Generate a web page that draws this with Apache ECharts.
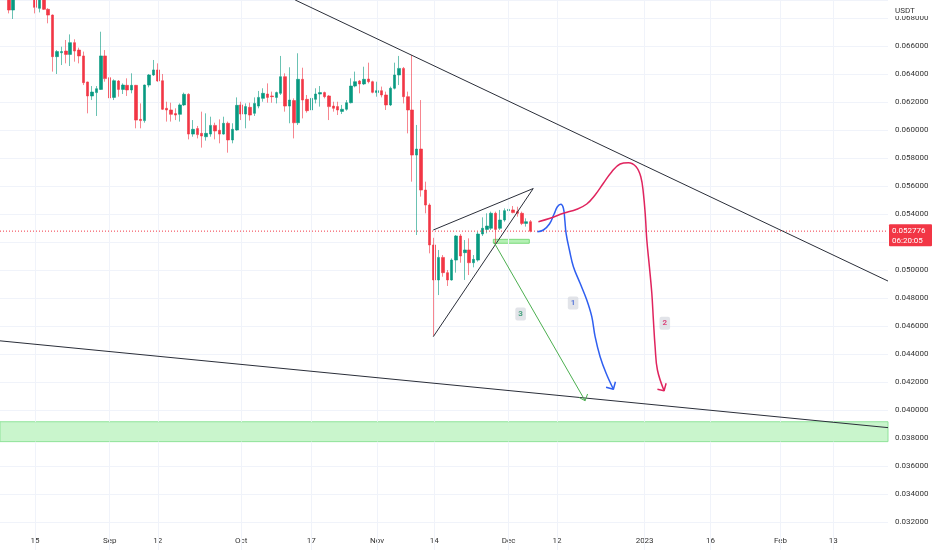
<!DOCTYPE html>
<html>
<head>
<meta charset="utf-8">
<title>USDT daily</title>
<script src="https://cdn.jsdelivr.net/npm/echarts@6/dist/echarts.min.js"></script>
<style>
  html, body { margin: 0; padding: 0; background: #ffffff; }
  #chart { width: 932px; height: 550px; }
</style>
</head>
<body>
<div id="chart"></div>
<script>
// ==========================================
// Data
// ==========================================
const candleStart = '2022-08-09';   // first daily candle, one per day after it

// [open, close, low, high]
const ohlc = [
  [0.06976, 0.06857, 0.06833, 0.07000],
  [0.06857, 0.06964, 0.06793, 0.07000],
  [0.06964, 0.07040, 0.06940, 0.07090],
  [0.07040, 0.07080, 0.06990, 0.07150],
  [0.07080, 0.07010, 0.06960, 0.07120],
  [0.07010, 0.06990, 0.06945, 0.07060],
  [0.06990, 0.06876, 0.06833, 0.07010],
  [0.06869, 0.06945, 0.06840, 0.06970],
  [0.06945, 0.06862, 0.06857, 0.06960],
  [0.06862, 0.06821, 0.06762, 0.06870],
  [0.06821, 0.06524, 0.06417, 0.06825],
  [0.06524, 0.06560, 0.06400, 0.06571],
  [0.06552, 0.06560, 0.06464, 0.06595],
  [0.06564, 0.06540, 0.06476, 0.06643],
  [0.06540, 0.06624, 0.06457, 0.06683],
  [0.06624, 0.06564, 0.06488, 0.06648],
  [0.06571, 0.06529, 0.06476, 0.06588],
  [0.06529, 0.06338, 0.06321, 0.06560],
  [0.06343, 0.06243, 0.06119, 0.06345],
  [0.06243, 0.06271, 0.06214, 0.06314],
  [0.06267, 0.06295, 0.06100, 0.06314],
  [0.06290, 0.06529, 0.06286, 0.06702],
  [0.06529, 0.06367, 0.06345, 0.06571],
  [0.06374, 0.06229, 0.06219, 0.06386],
  [0.06233, 0.06352, 0.06214, 0.06362],
  [0.06350, 0.06290, 0.06238, 0.06357],
  [0.06290, 0.06321, 0.06257, 0.06333],
  [0.06319, 0.06286, 0.06243, 0.06369],
  [0.06286, 0.06319, 0.06262, 0.06405],
  [0.06319, 0.06071, 0.06012, 0.06322],
  [0.06076, 0.06067, 0.06012, 0.06190],
  [0.06067, 0.06321, 0.06052, 0.06324],
  [0.06321, 0.06393, 0.06305, 0.06400],
  [0.06393, 0.06429, 0.06386, 0.06500],
  [0.06429, 0.06350, 0.06345, 0.06476],
  [0.06352, 0.06148, 0.06143, 0.06400],
  [0.06155, 0.06143, 0.06060, 0.06202],
  [0.06143, 0.06112, 0.06060, 0.06195],
  [0.06117, 0.06107, 0.06071, 0.06155],
  [0.06112, 0.06179, 0.06060, 0.06190],
  [0.06179, 0.06255, 0.06171, 0.06267],
  [0.06255, 0.05971, 0.05933, 0.06262],
  [0.05971, 0.06005, 0.05952, 0.06071],
  [0.06010, 0.05967, 0.05940, 0.06029],
  [0.05976, 0.05957, 0.05874, 0.06131],
  [0.05952, 0.05976, 0.05924, 0.06119],
  [0.05971, 0.06033, 0.05952, 0.06095],
  [0.06033, 0.05993, 0.05933, 0.06052],
  [0.05998, 0.05971, 0.05905, 0.06076],
  [0.05971, 0.06048, 0.05967, 0.06095],
  [0.06048, 0.05929, 0.05838, 0.06060],
  [0.05929, 0.06005, 0.05905, 0.06048],
  [0.06000, 0.06176, 0.05995, 0.06233],
  [0.06179, 0.06114, 0.06071, 0.06202],
  [0.06114, 0.06167, 0.06012, 0.06190],
  [0.06162, 0.06107, 0.06067, 0.06195],
  [0.06119, 0.06190, 0.06100, 0.06233],
  [0.06171, 0.06233, 0.06155, 0.06279],
  [0.06226, 0.06262, 0.06202, 0.06298],
  [0.06257, 0.06233, 0.06195, 0.06333],
  [0.06243, 0.06238, 0.06195, 0.06274],
  [0.06233, 0.06267, 0.06190, 0.06274],
  [0.06262, 0.06381, 0.06250, 0.06529],
  [0.06381, 0.06171, 0.06131, 0.06405],
  [0.06171, 0.06214, 0.06048, 0.06448],
  [0.06210, 0.06052, 0.05940, 0.06226],
  [0.06052, 0.06362, 0.06036, 0.06548],
  [0.06362, 0.06214, 0.06083, 0.06445],
  [0.06219, 0.06138, 0.06124, 0.06250],
  [0.06143, 0.06226, 0.06119, 0.06310],
  [0.06219, 0.06257, 0.06190, 0.06298],
  [0.06257, 0.06267, 0.06167, 0.06314],
  [0.06267, 0.06238, 0.06226, 0.06274],
  [0.06243, 0.06167, 0.06071, 0.06250],
  [0.06171, 0.06155, 0.06131, 0.06202],
  [0.06167, 0.06143, 0.06107, 0.06202],
  [0.06133, 0.06148, 0.06114, 0.06179],
  [0.06148, 0.06195, 0.06138, 0.06214],
  [0.06195, 0.06314, 0.06190, 0.06369],
  [0.06314, 0.06345, 0.06305, 0.06417],
  [0.06350, 0.06329, 0.06262, 0.06357],
  [0.06329, 0.06362, 0.06321, 0.06452],
  [0.06364, 0.06345, 0.06333, 0.06481],
  [0.06345, 0.06269, 0.06262, 0.06352],
  [0.06267, 0.06281, 0.06238, 0.06345],
  [0.06281, 0.06250, 0.06233, 0.06310],
  [0.06250, 0.06179, 0.06143, 0.06274],
  [0.06179, 0.06298, 0.06171, 0.06310],
  [0.06298, 0.06393, 0.06290, 0.06481],
  [0.06393, 0.06440, 0.06321, 0.06529],
  [0.06440, 0.06238, 0.06190, 0.06450],
  [0.06238, 0.06143, 0.05976, 0.06274],
  [0.06143, 0.05821, 0.05631, 0.06536],
  [0.05821, 0.05864, 0.05250, 0.06036],
  [0.05864, 0.05571, 0.05524, 0.06214],
  [0.05571, 0.05464, 0.05405, 0.05631],
  [0.05464, 0.05179, 0.05119, 0.05476],
  [0.05179, 0.04929, 0.04530, 0.05230],
  [0.04929, 0.05090, 0.04821, 0.05143],
  [0.05090, 0.04981, 0.04952, 0.05107],
  [0.04981, 0.04929, 0.04886, 0.05000],
  [0.04929, 0.05071, 0.04924, 0.05083],
  [0.05071, 0.05243, 0.04981, 0.05250],
  [0.05243, 0.05100, 0.05052, 0.05257],
  [0.05124, 0.05143, 0.04929, 0.05214],
  [0.05143, 0.05052, 0.04964, 0.05226],
  [0.05052, 0.05076, 0.05019, 0.05107],
  [0.05071, 0.05257, 0.05060, 0.05274],
  [0.05257, 0.05298, 0.05243, 0.05376],
  [0.05290, 0.05314, 0.05262, 0.05405],
  [0.05298, 0.05405, 0.05286, 0.05417],
  [0.05405, 0.05290, 0.05190, 0.05417],
  [0.05298, 0.05357, 0.05286, 0.05429],
  [0.05357, 0.05424, 0.05345, 0.05440],
  [0.05424, 0.05433, 0.05417, 0.05505],
  [0.05429, 0.05410, 0.05405, 0.05457],
  [0.05417, 0.05405, 0.05381, 0.05452],
  [0.05405, 0.05333, 0.05321, 0.05417],
  [0.05333, 0.05345, 0.05310, 0.05369],
  [0.05345, 0.052776, 0.05269, 0.05357]
];

const lastPrice = 0.052776;
const barCountdown = '06:20:05';
const currency = 'USDT';

const tickDates = ['2022-08-15', '2022-09-01', '2022-09-12', '2022-10-01', '2022-10-17', '2022-11-01',
  '2022-11-14', '2022-12-01', '2022-12-12', '2023-01-01', '2023-01-16', '2023-02-01', '2023-02-13'];
const tickLabels = ['15', 'Sep', '12', 'Oct', '17', 'Nov', '14', 'Dec', '12', '2023', '16', 'Feb', '13'];

// the x axis counts days after 15 Aug 2022
const dayZero = '2022-08-15';
const viewDays = [-8, 194.5];
const viewPrices = [0.030, 0.0692857];

// drawings: [days after 15 Aug 2022, price]
const upperTrend = [[59.3, 0.06929], [194.5, 0.04921]];
const lowerTrend = [[-8, 0.04494], [194.5, 0.03874]];
const wedgeTop = [[90.8, 0.052857], [113.6, 0.055821]];
const wedgeBottom = [[90.8, 0.045236], [113.6, 0.055821]];
const supportZone = [0.03774, 0.03916];
const retestBox = [[104.5, 0.05191], [112.7, 0.05219]];

const path1 = [[114.55, 0.052736], [115.92, 0.052857], [117.29, 0.053286], [118.36, 0.054000],
  [119.11, 0.054521], [119.89, 0.054693], [120.48, 0.054407], [120.80, 0.053571], [121.09, 0.052621],
  [121.85, 0.051429], [122.76, 0.050236], [124.29, 0.049050], [125.81, 0.047857], [126.95, 0.046664],
  [127.71, 0.045236], [128.85, 0.043807], [130.22, 0.042621], [131.88, 0.041479]];
const head1 = [[130.21, 0.041621], [131.88, 0.041479], [132.34, 0.042021]];

const path2 = [[114.78, 0.053450], [117.45, 0.053693], [120.48, 0.054050], [123.53, 0.054336],
  [125.81, 0.054714], [127.71, 0.055357], [129.60, 0.056193], [131.52, 0.057021], [133.41, 0.057571],
  [135.30, 0.057664], [137.06, 0.057379], [138.13, 0.056664], [138.72, 0.055479], [139.18, 0.053807],
  [139.50, 0.052143], [140.09, 0.050236], [140.64, 0.048336], [141.00, 0.046429], [141.39, 0.044521],
  [141.92, 0.042857], [143.44, 0.041379]];
const head2 = [[141.92, 0.041479], [143.44, 0.041379], [143.90, 0.041907]];

const path3 = [[104.67, 0.051964], [125.43, 0.040664]];
const head3 = [[124.06, 0.040893], [125.43, 0.040664], [125.99, 0.041143]];

const tagNames = ['1', '2', '3'];
const tagPoints = [[122.69, 0.047643], [143.6, 0.046193], [110.72, 0.046857]];

// ==========================================
// Helpers
// ==========================================
const DAY = 86400000;

function parseDate(s) {
  const p = s.split('-').map(Number);
  return Date.UTC(p[0], p[1] - 1, p[2]);
}

// whole days between dayZero and a date string
function dayOf(s) {
  return Math.round((parseDate(s) - parseDate(dayZero)) / DAY);
}

function drawing(pts, color, width, smooth, type) {
  return {
    type: 'line',
    data: pts,
    symbol: 'none',
    smooth: smooth || false,
    silent: true,
    animation: false,
    z: 5,
    lineStyle: { color: color, width: width, type: type || 'solid' }
  };
}

const UP = '#089981';
const DOWN = '#f23645';
const FONT = 'Roboto, "Liberation Sans", sans-serif';

const firstDay = dayOf(candleStart);
const candleData = ohlc.map((row, i) => [firstDay + i].concat(row));

const tickDays = tickDates.map(dayOf);
const labelByDay = {};
tickDays.forEach((d, i) => { labelByDay[d] = tickLabels[i]; });

// vertical grid lines stop at the support zone so it stays solid
const gridSegments = [];
tickDays.forEach(d => {
  gridSegments.push([{ coord: [d, viewPrices[1]] }, { coord: [d, supportZone[1]] }]);
  gridSegments.push([{ coord: [d, supportZone[0]] }, { coord: [d, viewPrices[0]] }]);
});

const tagColors = ['#3d63d8', '#d81b60', '#1f9163'];

// ==========================================
// Chart
// ==========================================
const chart = echarts.init(document.getElementById('chart'));

chart.setOption({
  animation: false,
  backgroundColor: '#ffffff',
  grid: { left: 0, right: 44, top: 0, bottom: 0 },
  xAxis: {
    type: 'value',
    min: viewDays[0],
    max: viewDays[1],
    offset: -20,
    axisLine: { show: false },
    axisTick: { show: false },
    splitLine: { show: false },
    axisLabel: {
      customValues: tickDays,
      margin: 7,
      fontSize: 8,
      fontFamily: FONT,
      color: '#333',
      formatter: v => labelByDay[Math.round(v)] || ''
    }
  },
  yAxis: {
    type: 'value',
    position: 'right',
    min: viewPrices[0],
    max: viewPrices[1],
    interval: 0.002,
    axisLine: { show: false },
    axisTick: { show: false },
    splitLine: { lineStyle: { color: '#f0f3fa', width: 1 } },
    axisLabel: {
      margin: 7,
      fontSize: 8,
      fontFamily: FONT,
      color: '#333',
      formatter: v => (v < 0.0315 || v > 0.0685) ? '' : v.toFixed(6)
    }
  },
  series: [
    {
      // vertical grid lines at the date ticks
      type: 'line',
      data: [],
      silent: true,
      z: 0,
      markLine: {
        silent: true,
        symbol: 'none',
        label: { show: false },
        lineStyle: { color: '#f0f3fa', width: 1, type: 'solid' },
        data: gridSegments
      }
    },
    {
      // green zones
      type: 'line',
      data: [],
      silent: true,
      z: 4,
      markArea: {
        silent: true,
        data: [
          [
            { xAxis: viewDays[0], yAxis: supportZone[0], itemStyle: { color: '#c9f5cc', opacity: 1, borderColor: '#8fe39a', borderWidth: 1 } },
            { xAxis: viewDays[1], yAxis: supportZone[1] }
          ],
          [
            { xAxis: retestBox[0][0], yAxis: retestBox[0][1], itemStyle: { color: '#b4f0b4', opacity: 1, borderColor: '#7ada7a', borderWidth: 1 } },
            { xAxis: retestBox[1][0], yAxis: retestBox[1][1] }
          ]
        ]
      }
    },
    drawing([[viewDays[0], lastPrice], [viewDays[1], lastPrice]], DOWN, 1, false, [1, 2]),
    {
      type: 'candlestick',
      data: candleData,
      encode: { x: 0, y: [1, 2, 3, 4] },
      barWidth: 3,
      z: 3,
      itemStyle: {
        color: UP,
        color0: DOWN,
        borderColor: 'rgba(8, 153, 129, 0.6)',
        borderColor0: 'rgba(242, 54, 69, 0.6)',
        borderWidth: 1
      }
    },
    drawing(upperTrend, '#2a2e39', 1),
    drawing(lowerTrend, '#2a2e39', 1),
    drawing(wedgeTop, '#2a2e39', 1),
    drawing(wedgeBottom, '#2a2e39', 1),
    drawing(path3, '#4caf50', 1),
    drawing(head3, '#4caf50', 1),
    drawing(path1, '#2f5ff0', 1.5, 0.4),
    drawing(head1, '#2f5ff0', 1.5),
    drawing(path2, '#e0245e', 1.5, 0.4),
    drawing(head2, '#e0245e', 1.5),
    {
      type: 'scatter',
      silent: true,
      z: 6,
      symbolSize: 1,
      itemStyle: { color: 'rgba(0,0,0,0)' },
      label: {
        show: true,
        position: 'inside',
        formatter: '{b}',
        fontSize: 8,
        fontWeight: 'bold',
        fontFamily: FONT,
        backgroundColor: 'rgba(209, 212, 220, 0.8)',
        borderRadius: 2,
        padding: [3, 3, 2, 3]
      },
      data: tagNames.map((n, i) => ({
        name: n,
        value: tagPoints[i],
        label: { color: tagColors[i] }
      }))
    }
  ]
});

// price tag on the scale and the currency header
const py = chart.convertToPixel({ yAxisIndex: 0 }, lastPrice);
chart.setOption({
  graphic: [
    { type: 'rect', z: 100, shape: { x: 889, y: 0, width: 43, height: 16 }, style: { fill: '#ffffff' } },
    { type: 'text', z: 101, x: 895, y: 11, style: { text: currency, fontSize: 8, fontFamily: FONT, fill: '#333', verticalAlign: 'middle' } },
    { type: 'rect', z: 100, shape: { x: 889, y: py - 7, width: 43, height: 22, r: 1 }, style: { fill: DOWN } },
    { type: 'text', z: 101, x: 892, y: py, style: { text: lastPrice.toFixed(6), fontSize: 8, fontFamily: FONT, fill: '#ffffff', verticalAlign: 'middle' } },
    { type: 'text', z: 101, x: 892, y: py + 10, style: { text: barCountdown, fontSize: 8, fontFamily: FONT, fill: '#ffffff', verticalAlign: 'middle' } }
  ]
});
</script>
</body>
</html>
